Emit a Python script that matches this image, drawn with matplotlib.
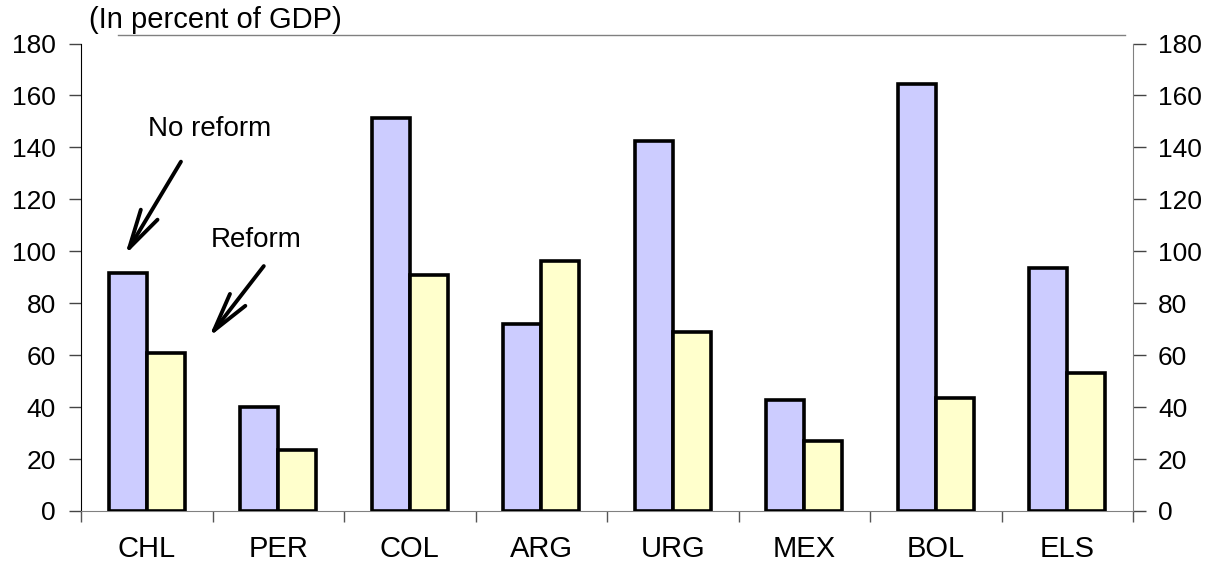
import numpy as np
import matplotlib
matplotlib.use("Agg")
import matplotlib.pyplot as plt
from matplotlib.lines import Line2D

countries = ["CHL", "PER", "COL", "ARG", "URG", "MEX", "BOL", "ELS"]
no_reform = [91.5, 40.0, 151.5, 72.0, 142.5, 42.8, 164.3, 93.5]
reform = [61.0, 23.5, 91.0, 96.3, 69.0, 27.0, 43.7, 53.0]
y_ticks = [0, 20, 40, 60, 80, 100, 120, 140, 160, 180]

plt.rcParams["font.family"] = ["Liberation Sans", "DejaVu Sans"]
fs = 20

fig = plt.figure(figsize=(12.15, 5.63), dpi=100)
ax = fig.add_axes([81 / 1215, 52 / 563, (1133 - 81) / 1215, (511 - 43.5) / 563])

x = np.arange(len(countries))
w = 0.29
ax.bar(x - w / 2, no_reform, width=w, color="#CCCCFF", edgecolor="black",
       linewidth=2.6, zorder=3)
ax.bar(x + w / 2, reform, width=w, color="#FFFFCC", edgecolor="black",
       linewidth=2.6, zorder=3)

ax.set_xlim(-0.5, len(countries) - 0.5)
ax.set_ylim(0, 180)
ax.set_yticks(y_ticks)
ax.tick_params(axis="y", which="major", direction="out", length=9, width=1,
               labelsize=19, left=True, right=True, labelleft=True,
               labelright=True, pad=9, color="#444444")

# category labels at centers, separator ticks between groups
ax.set_xticks(x)
ax.set_xticklabels(countries)
ax.tick_params(axis="x", which="major", length=0, pad=17, labelsize=21)
ax.set_xticks(np.arange(len(countries) + 1) - 0.5, minor=True)
ax.tick_params(axis="x", which="minor", direction="out", length=8, width=1,
               color="#555555")

ax.spines["top"].set_visible(False)
ax.spines["left"].set_color("black")
ax.spines["right"].set_color("#808080")
ax.spines["bottom"].set_color("#808080")

# annotations
arrow = dict(arrowstyle="->,head_length=2.8,head_width=0.7", mutation_scale=10,
             lw=2.8, color="black", shrinkA=0, shrinkB=0)
ax.annotate("", xy=(-0.165, 98.6), xytext=(0.26, 134.5), arrowprops=arrow)
ax.text(0.01, 144.4, "No reform", ha="left", va="baseline", fontsize=fs)
ax.annotate("", xy=(0.473, 67.0), xytext=(0.89, 94.3), arrowprops=arrow)
ax.text(0.489, 101.7, "Reform", ha="left", va="baseline", fontsize=fs)

# top frame line and subtitle
fig.add_artist(Line2D([118 / 1215, 1125 / 1215], [1 - 35 / 563, 1 - 35 / 563],
                      color="#808080", lw=1))
fig.text(89 / 1215, 1 - 28 / 563, "(In percent of GDP)", ha="left",
         va="baseline", fontsize=21)

fig.savefig("out.png", dpi=100)
